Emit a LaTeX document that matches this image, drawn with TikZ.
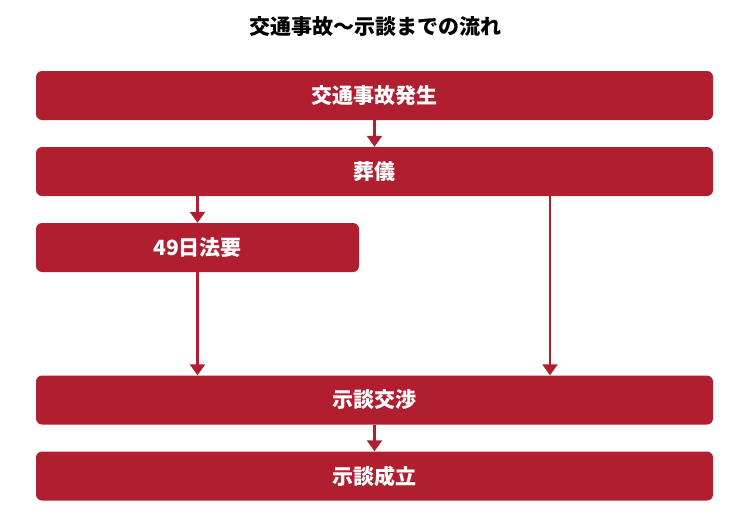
\documentclass[tikz,border=0pt]{standalone}
\usepackage{fontspec}
\setmainfont{Noto Sans CJK JP}
\usetikzlibrary{arrows.meta}
\definecolor{flowred}{HTML}{B01E2F}
\begin{document}
\begin{tikzpicture}[x=1pt,y=-1pt,
	stepbox/.style={fill=flowred,rounded corners=6pt,inner sep=0pt,minimum height=49pt,text=white,font=\bfseries\fontsize{21}{24}\selectfont},
	arr/.style={draw=flowred,line width=2.4pt,-{Triangle[width=15pt,length=11pt]}}]
		\useasboundingbox (0,0) rectangle (750,523);
		\node (title) at (375,27) {\bfseries\fontsize{21}{24}\selectfont 交通事故～示談までの流れ};
		
		\node[stepbox,minimum width=677pt] (accident) at (374.5,95.5) {交通事故発生};
		\node[stepbox,minimum width=677pt] (funeral) at (374.5,171.5) {葬儀};
		\node[stepbox,minimum width=323pt] (memorial) at (197.5,247.5) {49日法要};
		\node[stepbox,minimum width=677pt] (talks) at (374.5,400) {示談交渉};
		\node[stepbox,minimum width=677pt] (settled) at (374.5,476) {示談成立};
		
		\coordinate (side) at (550,300);
		\draw[arr] (accident) -- (funeral);
		\draw[arr] (memorial.north |- funeral.south) -- (memorial.north);
		\draw[arr] (memorial.south) -- (memorial.south |- talks.north);
		\draw[arr] (side |- funeral.south) -- (side |- talks.north);
		\draw[arr] (talks) -- (settled);
\end{tikzpicture}
\end{document}
